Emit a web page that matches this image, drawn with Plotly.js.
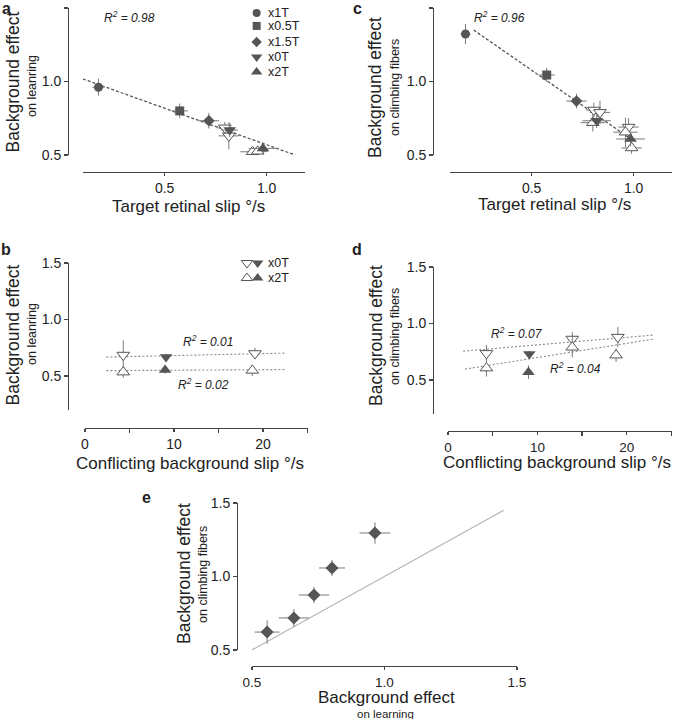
<!DOCTYPE html>
<html><head><meta charset="utf-8">
<script src="https://cdn.plot.ly/plotly-3.0.1.min.js"></script>
<style>html,body{margin:0;padding:0;background:#fff}#chart{width:673px;height:719px}</style>
</head><body><div id="chart"></div>
<script>
// ---------- Panel a: target retinal slip vs background effect on learning ----------
const legendLabels = ['x1T', 'x0.5T', 'x1.5T', 'x0T', 'x2T'];
const aSlip = [0.176, 0.574, 0.717, 0.819, 0.982];
const aEffect = [0.961, 0.800, 0.733, 0.670, 0.545];
const aSlipErr = [0.03, 0.04, 0.05, 0.04, 0.07];
const aEffectErr = [0.058, 0.05, 0.053, 0.05, 0.04];
const aOpenDownSlip = [0.795, 0.815];
const aOpenDownEffect = [0.685, 0.630];
const aOpenDownSlipErr = [0.04, 0.05];
const aOpenDownEffectErr = [0.04, 0.09];
const aOpenUpSlip = [0.931, 0.956];
const aOpenUpEffect = [0.522, 0.525];
const aOpenUpSlipErr = [0.06, 0.05];
const aOpenUpEffectErr = [0.03, 0.03];
const aFitX = [0.10, 1.14];
const aFitY = [1.017, 0.50];
const aR2 = 'R<sup>2</sup> = 0.98';

// ---------- Panel c: target retinal slip vs background effect on climbing fibers ----------
const cSlip = [0.176, 0.574, 0.720, 0.819, 0.985];
const cEffect = [1.323, 1.044, 0.867, 0.733, 0.609];
const cSlipErr = [0.025, 0.04, 0.05, 0.07, 0.07];
const cEffectErr = [0.068, 0.048, 0.05, 0.05, 0.05];
const cOpenDownSlip = [0.805, 0.835, 0.975];
const cOpenDownEffect = [0.806, 0.790, 0.690];
const cOpenDownSlipErr = [0.04, 0.05, 0.05];
const cOpenDownEffectErr = [0.05, 0.08, 0.06];
const cOpenUpSlip = [0.800, 0.960, 0.990];
const cOpenUpEffect = [0.720, 0.655, 0.548];
const cOpenUpSlipErr = [0.06, 0.06, 0.05];
const cOpenUpEffectErr = [0.06, 0.10, 0.04];
const cFitX = [0.216, 0.975];
const cFitY = [1.350, 0.620];
const cR2 = 'R<sup>2</sup> = 0.96';

// ---------- Panel b: conflicting background slip vs effect on learning ----------
const bLegendLabels = ['x0T', 'x2T'];
const bOpen0Slip = [4.3, 19.1];
const bOpen0Effect = [0.686, 0.700];
const bOpen0Err = [0.13, 0.05];
const bFilled0Slip = [9.1];
const bFilled0Effect = [0.668];
const bFilled0Err = [0.03];
const bOpen2Slip = [4.3, 18.8];
const bOpen2Effect = [0.535, 0.550];
const bOpen2Err = [0.05, 0.05];
const bFilled2Slip = [9.0];
const bFilled2Effect = [0.553];
const bFilled2Err = [0.03];
const bFit0X = [2.4, 22.5], bFit0Y = [0.668, 0.703];
const bFit2X = [2.4, 22.5], bFit2Y = [0.548, 0.558];
const bR2 = ['R<sup>2</sup> = 0.01', 'R<sup>2</sup> = 0.02'];

// ---------- Panel d: conflicting background slip vs effect on climbing fibers ----------
const dOpen0Slip = [4.3, 13.9, 19.0];
const dOpen0Effect = [0.736, 0.863, 0.880];
const dOpen0Err = [0.075, 0.06, 0.09];
const dFilled0Slip = [9.1];
const dFilled0Effect = [0.730];
const dFilled0Err = [0.03];
const dOpen2Slip = [4.3, 13.9, 18.8];
const dOpen2Effect = [0.606, 0.790, 0.720];
const dOpen2Err = [0.075, 0.09, 0.06];
const dFilled2Slip = [9.0];
const dFilled2Effect = [0.570];
const dFilled2Err = [0.06];
const dFit0X = [1.7, 23.0], dFit0Y = [0.756, 0.898];
const dFit2X = [1.9, 23.0], dFit2Y = [0.597, 0.863];
const dR2 = ['R<sup>2</sup> = 0.07', 'R<sup>2</sup> = 0.04'];

// ---------- Panel e: learning vs climbing fibers ----------
const eLearn = [0.557, 0.658, 0.734, 0.802, 0.964];
const eCF = [0.622, 0.718, 0.874, 1.058, 1.296];
const eLearnErr = [0.047, 0.057, 0.057, 0.049, 0.058];
const eCFErr = [0.08, 0.06, 0.055, 0.054, 0.073];
const unityLine = [0.5, 1.45];

// ---------- styling ----------
const FONT = 'Liberation Sans, Arial, Helvetica, sans-serif';
const DARK = '#555555';
const ERR = '#7a7a7a';
const symbolsA = ['circle', 'square', 'diamond', 'triangle-down', 'triangle-up'];
const sizesA = [9, 9, 9, 11, 11];
const W = 673, H = 719;
const px = v => v / W;
const py = v => 1 - v / H;

function errs(arr) { return {type: 'data', array: arr, visible: true, color: ERR, thickness: 1, width: 0}; }

function pts(xa, ya, x, y, ex, ey, symbol, filled, size) {
  const t = {
    type: 'scatter', mode: 'markers', x: x, y: y, xaxis: xa, yaxis: ya,
    cliponaxis: false, hoverinfo: 'skip', showlegend: false,
    marker: {symbol: symbol, size: size,
      color: filled ? DARK : '#ffffff',
      line: {color: DARK, width: filled ? 0 : 1}}
  };
  if (ex) t.error_x = errs(ex);
  if (ey) t.error_y = errs(ey);
  return t;
}
function line(xa, ya, x, y, color, dash, width) {
  return {type: 'scatter', mode: 'lines', x: x, y: y, xaxis: xa, yaxis: ya,
    hoverinfo: 'skip', showlegend: false, cliponaxis: false,
    line: {color: color, dash: dash, width: width}};
}

const traces = [];
// panel a
traces.push(line('x', 'y', aFitX, aFitY, '#555', '3px,2px', 1.3));
traces.push(pts('x', 'y', aOpenDownSlip, aOpenDownEffect, aOpenDownSlipErr, aOpenDownEffectErr, 'triangle-down', false, 11));
traces.push(pts('x', 'y', aOpenUpSlip, aOpenUpEffect, aOpenUpSlipErr, aOpenUpEffectErr, 'triangle-up', false, 11));
for (let i = 0; i < aSlip.length; i++) {
  traces.push(pts('x', 'y', [aSlip[i]], [aEffect[i]], [aSlipErr[i]], [aEffectErr[i]], symbolsA[i], true, sizesA[i]));
}
// legend markers in panel a
const legendY = [1.466, 1.378, 1.269, 1.167, 1.065];
for (let i = 0; i < legendLabels.length; i++) {
  traces.push(pts('x', 'y', [0.951], [legendY[i]], null, null, symbolsA[i], true, sizesA[i] - 1));
}
// panel c
traces.push(line('x3', 'y3', cFitX, cFitY, '#555', '3px,2px', 1.3));
traces.push(pts('x3', 'y3', cOpenDownSlip, cOpenDownEffect, cOpenDownSlipErr, cOpenDownEffectErr, 'triangle-down', false, 11));
traces.push(pts('x3', 'y3', cOpenUpSlip, cOpenUpEffect, cOpenUpSlipErr, cOpenUpEffectErr, 'triangle-up', false, 11));
for (let i = 0; i < cSlip.length; i++) {
  traces.push(pts('x3', 'y3', [cSlip[i]], [cEffect[i]], [cSlipErr[i]], [cEffectErr[i]], symbolsA[i], true, sizesA[i]));
}
// panel b
traces.push(line('x2', 'y2', bFit0X, bFit0Y, '#8a8a8a', '2px,2px', 1.1));
traces.push(line('x2', 'y2', bFit2X, bFit2Y, '#8a8a8a', '2px,2px', 1.1));
traces.push(pts('x2', 'y2', bOpen0Slip, bOpen0Effect, null, bOpen0Err, 'triangle-down', false, 11));
traces.push(pts('x2', 'y2', bOpen2Slip, bOpen2Effect, null, bOpen2Err, 'triangle-up', false, 11));
traces.push(pts('x2', 'y2', bFilled0Slip, bFilled0Effect, null, bFilled0Err, 'triangle-down', true, 11));
traces.push(pts('x2', 'y2', bFilled2Slip, bFilled2Effect, null, bFilled2Err, 'triangle-up', true, 11));
// legend in panel b
const bLegY = [1.50, 1.367];
traces.push(pts('x2', 'y2', [18.2], [bLegY[0]], null, null, 'triangle-down', false, 10));
traces.push(pts('x2', 'y2', [19.4], [bLegY[0]], null, null, 'triangle-down', true, 10));
traces.push(pts('x2', 'y2', [18.2], [bLegY[1]], null, null, 'triangle-up', false, 10));
traces.push(pts('x2', 'y2', [19.4], [bLegY[1]], null, null, 'triangle-up', true, 10));
// panel d
traces.push(line('x4', 'y4', dFit0X, dFit0Y, '#8a8a8a', '2px,2px', 1.1));
traces.push(line('x4', 'y4', dFit2X, dFit2Y, '#8a8a8a', '2px,2px', 1.1));
traces.push(pts('x4', 'y4', dOpen0Slip, dOpen0Effect, null, dOpen0Err, 'triangle-down', false, 11));
traces.push(pts('x4', 'y4', dOpen2Slip, dOpen2Effect, null, dOpen2Err, 'triangle-up', false, 11));
traces.push(pts('x4', 'y4', dFilled0Slip, dFilled0Effect, null, dFilled0Err, 'triangle-down', true, 11));
traces.push(pts('x4', 'y4', dFilled2Slip, dFilled2Effect, null, dFilled2Err, 'triangle-up', true, 11));
// panel e
traces.push(line('x5', 'y5', unityLine, unityLine, '#b5b5b5', 'solid', 1.2));
traces.push(pts('x5', 'y5', eLearn, eCF, eLearnErr, eCFErr, 'diamond', true, 10));

// ---------- axes ----------
function ax(domain, range, pos, tickvals, ticktext, extra) {
  return Object.assign({
    domain: domain, range: range, anchor: 'free', position: pos,
    showline: true, linecolor: '#444', linewidth: 1.3,
    ticks: 'outside', ticklen: 4, tickwidth: 1.3, tickcolor: '#444',
    showgrid: false, zeroline: false, tickmode: 'array', tickvals: tickvals, ticktext: ticktext,
    tickfont: {family: FONT, size: 14, color: '#222'}, fixedrange: true
  }, extra || {});
}
const effTicks = [0.5, 1.0, 1.5], effText = ['0.5', '1.0', '1.5'];
const slipTicks = [0.5, 1.0], slipText = ['0.5', '1.0'];
const bgTicks = [0, 10, 20], bgText = ['0', '10', '20'];
const bgMinor = {tickmode: 'array', tickvals: [5, 15, 25], ticks: 'outside', ticklen: 4, tickwidth: 1.3, tickcolor: '#444', showgrid: false};
const xExtra = {ticklen: 3};

const layout = {
  width: W, height: H, margin: {l: 0, r: 0, t: 0, b: 0},
  paper_bgcolor: '#fff', plot_bgcolor: 'rgba(0,0,0,0)', showlegend: false,
  font: {family: FONT, color: '#222'},
  // panel a
  xaxis: ax([px(83), px(305.4)], [0.1, 1.19], py(172), slipTicks, slipText, xExtra),
  yaxis: ax([py(155), py(8)], [0.5, 1.5], px(68), effTicks, effText),
  // panel b
  xaxis2: ax([px(85), px(307.5)], [0, 25], py(428), bgTicks, bgText, {ticklen: 3, minor: bgMinor}),
  yaxis2: ax([py(410), py(263)], [0.2, 1.5], px(68), effTicks, effText),
  // panel c
  xaxis3: ax([px(450), px(672.4)], [0.1, 1.19], py(172), slipTicks, slipText, xExtra),
  yaxis3: ax([py(155), py(8)], [0.5, 1.5], px(433), effTicks, effText),
  // panel d
  xaxis4: ax([px(448), px(671.5)], [0, 25], py(431), bgTicks, bgText, {ticklen: 3, minor: bgMinor, tickfont: {family: FONT, size: 13.5, color: '#222'}}),
  yaxis4: ax([py(414), py(267)], [0.2, 1.5], px(433), effTicks, effText),
  // panel e
  xaxis5: ax([px(252), px(517)], [0.5, 1.5], py(666), effTicks, effText, {ticklen: 3, tickfont: {family: FONT, size: 13.5, color: '#222'}}),
  yaxis5: ax([py(650), py(503)], [0.5, 1.5], px(237), effTicks, effText),
  annotations: []
};

function note(text, x, y, size, opts) {
  layout.annotations.push(Object.assign({
    text: text, x: x, y: y, xref: 'paper', yref: 'paper', showarrow: false,
    xanchor: 'center', yanchor: 'middle', font: {family: FONT, size: size, color: '#222'}
  }, opts || {}));
}
// panel letters
note('<b>a</b>', px(6), py(8), 16);
note('<b>b</b>', px(6), py(249), 16);
note('<b>c</b>', px(357), py(8), 16);
note('<b>d</b>', px(357), py(249), 16);
note('<b>e</b>', px(146), py(497), 16);
// axis titles
const mainTitle = 'Background effect';
const learnSub = 'on leanring';
const cfSub = 'on climbing fibers';
const learnSubE = 'on learning';
const slipTitle = 'Target retinal slip °/s';
const bgTitle = 'Conflicting background slip °/s';
note(mainTitle, px(12.5), py(82), 17.5, {textangle: -90});
note(learnSub, px(32), py(86), 12.5, {textangle: -90});
note(slipTitle, px(188), py(207), 17);
note(mainTitle, px(12.5), py(335), 17.5, {textangle: -90});
note(learnSub, px(32), py(334), 12.5, {textangle: -90});
note(bgTitle, px(190), py(464), 17);
note(mainTitle, px(375), py(88), 17.5, {textangle: -90});
note(cfSub, px(395), py(88), 12.5, {textangle: -90});
note(slipTitle, px(554), py(205), 17);
note(mainTitle, px(376), py(336), 17.5, {textangle: -90});
note(cfSub, px(395), py(337), 12.5, {textangle: -90});
note(bgTitle, px(557), py(462), 17);
note(mainTitle, px(184), py(573), 17.5, {textangle: -90});
note(cfSub, px(203), py(575), 12.5, {textangle: -90});
note(mainTitle, px(386), py(697), 17);
note(learnSubE, px(385), py(713.5), 11.5);

// data-space text
function dnote(text, xa, ya, x, y, size, italic, anchor) {
  layout.annotations.push({
    text: italic ? '<i>' + text + '</i>' : text, x: x, y: y, xref: xa, yref: ya, showarrow: false,
    xanchor: anchor || 'center', yanchor: 'middle', font: {family: FONT, size: size, color: '#222'}
  });
}
dnote(aR2, 'x', 'y', 0.33, 1.44, 12, true);
dnote(cR2, 'x3', 'y3', 0.343, 1.44, 12, true);
dnote(bR2[0], 'x2', 'y2', 13.8, 0.81, 12, true);
dnote(bR2[1], 'x2', 'y2', 13.3, 0.43, 12, true);
dnote(dR2[0], 'x4', 'y4', 7.7, 0.915, 12, true);
dnote(dR2[1], 'x4', 'y4', 14.3, 0.605, 12, true);
for (let i = 0; i < legendLabels.length; i++) dnote(legendLabels[i], 'x', 'y', 0.995, legendY[i], 12.5, false, 'left');
for (let i = 0; i < bLegendLabels.length; i++) dnote(bLegendLabels[i], 'x2', 'y2', 20.3, bLegY[i], 12.5, false, 'left');

Plotly.newPlot('chart', traces, layout, {staticPlot: true, displayModeBar: false});
</script>
</body></html>
